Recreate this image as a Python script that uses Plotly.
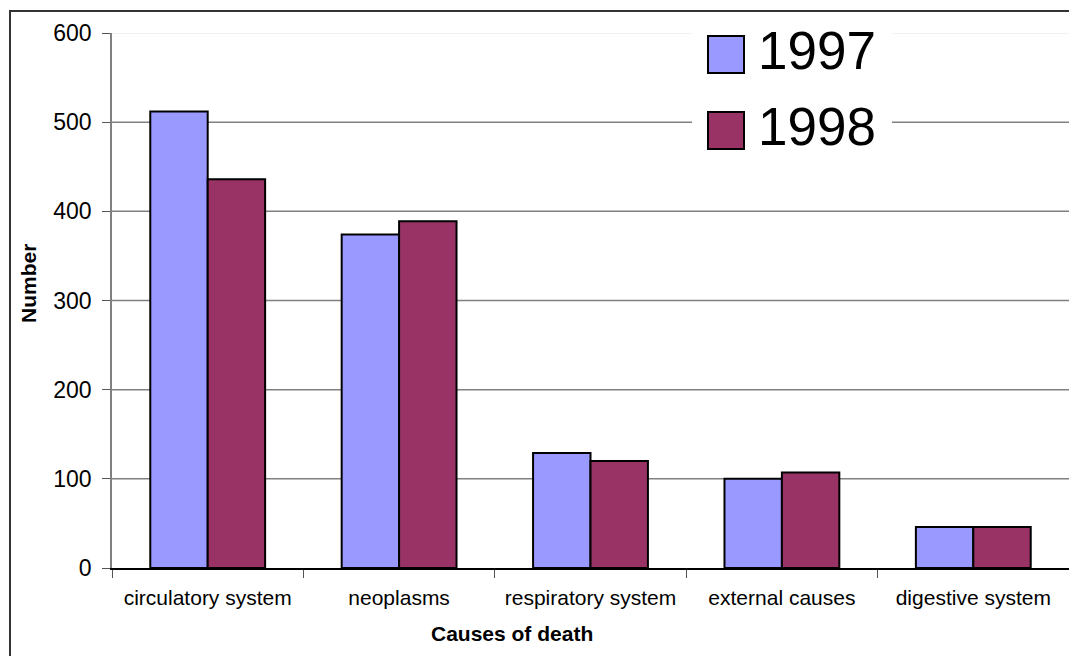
import plotly.graph_objects as go

categories = ["circulatory system", "neoplasms", "respiratory system", "external causes", "digestive system"]
series_names = ["1997", "1998"]
values_1997 = [512, 374, 129, 100, 46]
values_1998 = [436, 389, 120, 107, 46]
colors = ["#9999FF", "#993366"]
y_ticks = [0, 100, 200, 300, 400, 500, 600]

W, H = 1069, 656
L, R, T, B = 112, 0, 33, 88
PW, PH = W - L - R, H - T - B
BOTTOM = H - B  # plot bottom in pixels

def px(x):  # screen pixel -> paper
    return (x - L) / PW

def py(y):
    return (BOTTOM - y) / PH

fig = go.Figure()
for name, vals, col in zip(series_names, [values_1997, values_1998], colors):
    fig.add_trace(go.Bar(x=categories, y=vals, name=name, marker=dict(color=col, line=dict(color="black", width=2)),
                         showlegend=False))

shapes = []
for v in y_ticks[1:]:
    shapes.append(dict(type="line", xref="paper", yref="y", x0=0, x1=1, y0=v, y1=v,
                       line=dict(color="#eeeeee" if v == y_ticks[-1] else "#808080", width=1.5), layer="below"))
# outer border: left and top edges only
shapes.append(dict(type="line", xref="paper", yref="paper", x0=px(10), x1=px(10), y0=py(10), y1=py(660),
                   line=dict(color="#333333", width=2), layer="above"))
shapes.append(dict(type="line", xref="paper", yref="paper", x0=px(10), x1=px(1075), y0=py(11), y1=py(11),
                   line=dict(color="#333333", width=2), layer="above"))
shapes.append(dict(type="rect", xref="paper", yref="paper", x0=px(692), x1=px(892), y0=py(12), y1=py(155),
                   line=dict(width=0), fillcolor="white", layer="above"))
annotations = []
for i, (name, col) in enumerate(zip(series_names, colors)):
    top = 36 + i * 76
    shapes.append(dict(type="rect", xref="paper", yref="paper", x0=px(708), x1=px(744), y0=py(top), y1=py(top + 37),
                       line=dict(color="black", width=2), fillcolor=col, layer="above"))
    annotations.append(dict(text=name, xref="paper", yref="paper", x=px(756), y=py(top + 14.5), xanchor="left",
                            yanchor="middle", showarrow=False, font=dict(size=53, color="black")))

annotations.append(dict(text="<b>Causes of death</b>", xref="paper", yref="paper", x=px(512), y=py(633),
                        xanchor="center", yanchor="middle", showarrow=False, font=dict(size=21, color="black")))
annotations.append(dict(text="<b>Number</b>", xref="paper", yref="paper", x=px(28), y=py(284), textangle=-90,
                        xanchor="center", yanchor="middle", showarrow=False, font=dict(size=21, color="black")))

fig.update_layout(
    width=W, height=H,
    margin=dict(l=L, r=R, t=T, b=B),
    paper_bgcolor="white", plot_bgcolor="white",
    font=dict(family="Liberation Sans, Arial, sans-serif", color="black"),
    barmode="group", bargap=0.4, bargroupgap=0,
    shapes=shapes, annotations=annotations,
    showlegend=False,
)
fig.update_xaxes(showgrid=False, showline=True, linecolor="black", linewidth=1.5, ticks="outside",
                 tickson="boundaries", ticklen=8, tickcolor="#555555", tickfont=dict(size=21),
                 tickangle=0, fixedrange=True, ticklabelstandoff=10)
fig.update_yaxes(range=[0, 600], tickvals=y_ticks, showgrid=False, zeroline=False, showline=True,
                 linecolor="#808080", linewidth=1.5, ticks="outside", ticklen=8, tickcolor="#555555",
                 tickfont=dict(size=23), ticklabelstandoff=6, fixedrange=True)

fig.write_html("out.html", config={"displayModeBar": False},
               post_script="document.body.style.margin='0';document.body.style.overflow='hidden';")
